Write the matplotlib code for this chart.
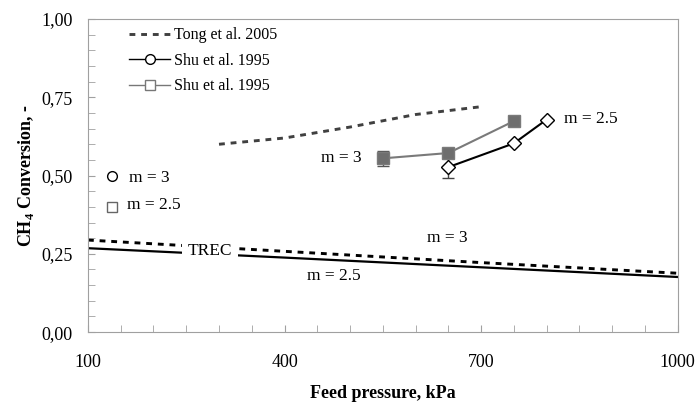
import numpy as np
import matplotlib
matplotlib.use("Agg")
import matplotlib.pyplot as plt
from matplotlib.lines import Line2D
from matplotlib.ticker import FuncFormatter, MultipleLocator

plt.rcParams['font.family'] = ['Liberation Serif', 'DejaVu Serif']
plt.rcParams['mathtext.fontset'] = 'custom'
plt.rcParams['mathtext.rm'] = 'Liberation Serif'
plt.rcParams['mathtext.bf'] = 'Liberation Serif:bold'

# Tong et al. 2005
tong_p = [300, 400, 500, 600, 700]
tong_x = [0.60, 0.62, 0.655, 0.695, 0.72]

# Shu et al. 1995, m = 3 (squares)
shu3_p = [550, 650, 750]
shu3_x = [0.555, 0.572, 0.674]
shu3_err = [0.025, 0.0, 0.0]

# Shu et al. 1995, m = 2.5 (diamonds)
shu25_p = [650, 750, 800]
shu25_x = [0.527, 0.603, 0.679]
shu25_err = [0.035, 0.0, 0.0]

# TREC model
trec_p = [100, 400, 700, 1000]
trec_m3 = [0.294, 0.258, 0.222, 0.188]
trec_m25 = [0.268, 0.238, 0.207, 0.176]

fig = plt.figure(figsize=(6.98, 4.05), dpi=100)
ax = fig.add_axes([0.126, 0.180, 0.845, 0.773])

# TREC lines
ax.plot(trec_p, trec_m3, color='black', linestyle=(0, (2, 2)), linewidth=2.1)
ax.plot(trec_p, trec_m25, color='black', linestyle='-', linewidth=1.6)
ax.text(286, 0.26, 'TREC', fontsize=12.5, ha='center', va='center',
        bbox=dict(facecolor='white', edgecolor='none', pad=4))

# Tong
ax.plot(tong_p, tong_x, color='#404040', linestyle=(0, (2, 2)), linewidth=2.1)

# Shu m=3 squares
ax.errorbar(shu3_p, shu3_x, yerr=shu3_err, color='#7a7a7a', linewidth=1.5,
            marker='s', markersize=8, markerfacecolor='#6e6e6e',
            markeredgecolor='#7a7a7a', ecolor='#555555', elinewidth=1, capsize=4)

# Shu m=2.5 diamonds
ax.errorbar(shu25_p, shu25_x, yerr=shu25_err, color='black', linewidth=1.5,
            marker='D', markersize=7, markerfacecolor='white',
            markeredgecolor='black', ecolor='#444444', elinewidth=1, capsize=4)

# annotations
ax.text(487, 0.555, 'm = 3', fontsize=12.5, ha='center', va='center')
ax.text(827, 0.68, 'm = 2.5', fontsize=12.5, ha='left', va='center')
ax.text(648, 0.30, 'm = 3', fontsize=12.5, ha='center', va='center')
ax.text(475, 0.178, 'm = 2.5', fontsize=12.5, ha='center', va='center')

# small key on the left
ax.plot([136], [0.50], marker='o', markersize=7, markerfacecolor='white',
        markeredgecolor='black', linestyle='none')
ax.plot([136], [0.40], marker='s', markersize=7, markerfacecolor='white',
        markeredgecolor='#666666', linestyle='none')
ax.text(163, 0.493, 'm = 3', fontsize=12.5, ha='left', va='center')
ax.text(160, 0.405, 'm = 2.5', fontsize=12.5, ha='left', va='center')

handles = [
    Line2D([], [], color='#404040', linestyle=(0, (2, 2)), linewidth=2.1),
    Line2D([], [], color='black', linewidth=1, marker='o', markersize=7,
           markerfacecolor='white', markeredgecolor='black'),
    Line2D([], [], color='#777777', linewidth=1, marker='s', markersize=7,
           markerfacecolor='white', markeredgecolor='#777777'),
]
ax.legend(handles, ['Tong et al. 2005', 'Shu et al. 1995', 'Shu et al. 1995'],
          loc='upper left', bbox_to_anchor=(0.045, 1.02), frameon=False,
          fontsize=11.5, handlelength=2.6, handletextpad=0.2, labelspacing=0.6)

ax.set_xlim(100, 1000)
ax.set_ylim(0, 1)
ax.set_xticks([100, 400, 700, 1000])
ax.xaxis.set_minor_locator(MultipleLocator(50))
ax.set_yticks([0, 0.25, 0.5, 0.75, 1.0])
ax.yaxis.set_minor_locator(MultipleLocator(0.05))
ax.yaxis.set_major_formatter(FuncFormatter(lambda v, p: f'{v:.2f}'.replace('.', ',')))

for s in ax.spines.values():
    s.set_color('#a0a0a0')
ax.tick_params(which='both', direction='in', color='#a0a0a0', labelsize=13)
ax.tick_params(which='major', length=5)
ax.tick_params(which='minor', length=5)
ax.tick_params(axis='x', pad=16)
ax.tick_params(axis='y', pad=11)

ax.set_xlabel('Feed pressure, kPa', fontsize=13, fontweight='bold', labelpad=10)
ax.set_ylabel(r'CH$_\mathbf{4}$ Conversion, -', fontsize=13, fontweight='bold', labelpad=4)

fig.savefig('out.png', dpi=100)
